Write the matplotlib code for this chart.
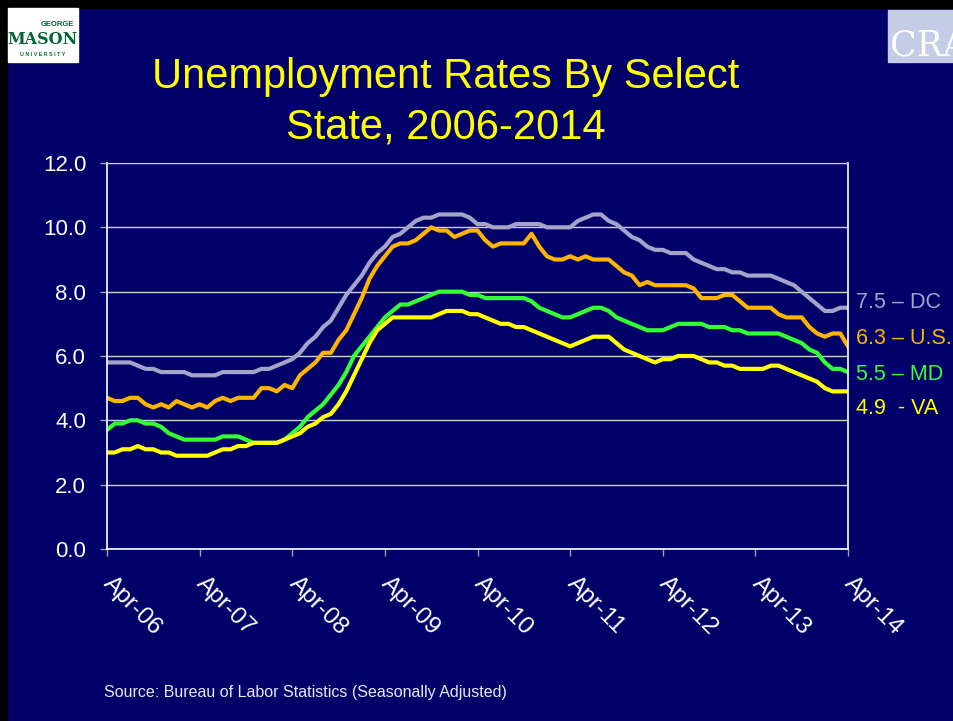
import matplotlib
matplotlib.use('Agg')
import matplotlib.pyplot as plt
from matplotlib.patches import Rectangle
from matplotlib.transforms import ScaledTranslation

# monthly rates, Apr-06 .. Apr-14 (97 months)
dc = [5.8, 5.8, 5.8, 5.8, 5.7, 5.6, 5.6, 5.5, 5.5, 5.5,
      5.5, 5.4, 5.4, 5.4, 5.4, 5.5, 5.5, 5.5, 5.5, 5.5,
      5.6, 5.6, 5.7, 5.8, 5.9, 6.1, 6.4, 6.6, 6.9, 7.1,
      7.5, 7.9, 8.2, 8.5, 8.9, 9.2, 9.4, 9.7, 9.8, 10.0,
      10.2, 10.3, 10.3, 10.4, 10.4, 10.4, 10.4, 10.3, 10.1, 10.1,
      10.0, 10.0, 10.0, 10.1, 10.1, 10.1, 10.1, 10.0, 10.0, 10.0,
      10.0, 10.2, 10.3, 10.4, 10.4, 10.2, 10.1, 9.9, 9.7, 9.6,
      9.4, 9.3, 9.3, 9.2, 9.2, 9.2, 9.0, 8.9, 8.8, 8.7,
      8.7, 8.6, 8.6, 8.5, 8.5, 8.5, 8.5, 8.4, 8.3, 8.2,
      8.0, 7.8, 7.6, 7.4, 7.4, 7.5, 7.5]
us = [4.7, 4.6, 4.6, 4.7, 4.7, 4.5, 4.4, 4.5, 4.4, 4.6,
      4.5, 4.4, 4.5, 4.4, 4.6, 4.7, 4.6, 4.7, 4.7, 4.7,
      5.0, 5.0, 4.9, 5.1, 5.0, 5.4, 5.6, 5.8, 6.1, 6.1,
      6.5, 6.8, 7.3, 7.8, 8.4, 8.8, 9.1, 9.4, 9.5, 9.5,
      9.6, 9.8, 10.0, 9.9, 9.9, 9.7, 9.8, 9.9, 9.9, 9.6,
      9.4, 9.5, 9.5, 9.5, 9.5, 9.8, 9.4, 9.1, 9.0, 9.0,
      9.1, 9.0, 9.1, 9.0, 9.0, 9.0, 8.8, 8.6, 8.5, 8.2,
      8.3, 8.2, 8.2, 8.2, 8.2, 8.2, 8.1, 7.8, 7.8, 7.8,
      7.9, 7.9, 7.7, 7.5, 7.5, 7.5, 7.5, 7.3, 7.2, 7.2,
      7.2, 6.9, 6.7, 6.6, 6.7, 6.7, 6.3]
md = [3.7, 3.9, 3.9, 4.0, 4.0, 3.9, 3.9, 3.8, 3.6, 3.5,
      3.4, 3.4, 3.4, 3.4, 3.4, 3.5, 3.5, 3.5, 3.4, 3.3,
      3.3, 3.3, 3.3, 3.4, 3.6, 3.8, 4.1, 4.3, 4.5, 4.8,
      5.1, 5.5, 6.0, 6.3, 6.6, 6.9, 7.2, 7.4, 7.6, 7.6,
      7.7, 7.8, 7.9, 8.0, 8.0, 8.0, 8.0, 7.9, 7.9, 7.8,
      7.8, 7.8, 7.8, 7.8, 7.8, 7.7, 7.5, 7.4, 7.3, 7.2,
      7.2, 7.3, 7.4, 7.5, 7.5, 7.4, 7.2, 7.1, 7.0, 6.9,
      6.8, 6.8, 6.8, 6.9, 7.0, 7.0, 7.0, 7.0, 6.9, 6.9,
      6.9, 6.8, 6.8, 6.7, 6.7, 6.7, 6.7, 6.7, 6.6, 6.5,
      6.4, 6.2, 6.1, 5.8, 5.6, 5.6, 5.5]
va = [3.0, 3.0, 3.1, 3.1, 3.2, 3.1, 3.1, 3.0, 3.0, 2.9,
      2.9, 2.9, 2.9, 2.9, 3.0, 3.1, 3.1, 3.2, 3.2, 3.3,
      3.3, 3.3, 3.3, 3.4, 3.5, 3.6, 3.8, 3.9, 4.1, 4.2,
      4.5, 4.9, 5.4, 5.9, 6.4, 6.8, 7.0, 7.2, 7.2, 7.2,
      7.2, 7.2, 7.2, 7.3, 7.4, 7.4, 7.4, 7.3, 7.3, 7.2,
      7.1, 7.0, 7.0, 6.9, 6.9, 6.8, 6.7, 6.6, 6.5, 6.4,
      6.3, 6.4, 6.5, 6.6, 6.6, 6.6, 6.4, 6.2, 6.1, 6.0,
      5.9, 5.8, 5.9, 5.9, 6.0, 6.0, 6.0, 5.9, 5.8, 5.8,
      5.7, 5.7, 5.6, 5.6, 5.6, 5.6, 5.7, 5.7, 5.6, 5.5,
      5.4, 5.3, 5.2, 5.0, 4.9, 4.9, 4.9]
tick_labels = ['Apr-06', 'Apr-07', 'Apr-08', 'Apr-09', 'Apr-10',
               'Apr-11', 'Apr-12', 'Apr-13', 'Apr-14']
end_labels = ['7.5 \u2013 DC', '6.3 \u2013 U.S.', '5.5 \u2013 MD', '4.9  - VA']

BG = '#000068'
colors = {'dc': '#a4a4c8', 'us': '#ffb400', 'md': '#33ff33', 'va': '#ffff00'}

plt.rcParams['font.family'] = ['Liberation Sans', 'DejaVu Sans']

fig = plt.figure(figsize=(9.54, 7.21), dpi=100, facecolor=BG)
W, H = 954.0, 721.0

# black slide edge (top and left)
fig.patches.append(Rectangle((0, 1 - 8 / H), 1, 8 / H, transform=fig.transFigure,
                             color='black', zorder=0))
fig.patches.append(Rectangle((0, 0), 7 / W, 1, transform=fig.transFigure,
                             color='black', zorder=0))

# George Mason logo (rough)
fig.patches.append(Rectangle((8 / W, 1 - 62 / H), 70 / W, 54 / H,
                             transform=fig.transFigure, color='white', zorder=1))
fig.text(57 / W, 1 - 25 / H, 'GEORGE', fontsize=5.5, fontweight='bold',
         color='#006633', ha='center', va='center')
fig.text(43 / W, 1 - 40 / H, 'MASON', fontsize=11.5, fontweight='bold',
         family='DejaVu Serif', color='#006633', ha='center', va='center')
fig.text(43 / W, 1 - 55 / H, 'U N I V E R S I T Y', fontsize=3.8,
         fontweight='bold', color='#006633', ha='center', va='center')

# CRA logo (rough, cut by the slide edge like the original)
fig.patches.append(Rectangle((888 / W, 1 - 62 / H), 66 / W, 52 / H,
                             transform=fig.transFigure, color='#c4cce6', zorder=1))
fig.text(890 / W, 1 - 46 / H, 'CRA', fontsize=25, family='DejaVu Serif',
         color='white', ha='left', va='center')

ax = fig.add_axes([107 / W, 1 - 549 / H, 741 / W, 386 / H])
ax.set_facecolor(BG)

months = list(range(len(dc)))
ax.plot(months, dc, color=colors['dc'], lw=3)
ax.plot(months, us, color=colors['us'], lw=3)
ax.plot(months, md, color=colors['md'], lw=3)
ax.plot(months, va, color=colors['va'], lw=3)

ax.set_xlim(0, 96)
ax.set_ylim(0, 12)
ax.set_yticks([0, 2, 4, 6, 8, 10, 12])
ax.set_yticklabels(['%.1f' % v for v in [0, 2, 4, 6, 8, 10, 12]])
ax.set_xticks(range(0, 97, 12))
ax.set_xticklabels(tick_labels)

ax.grid(axis='y', color='#d0d0dc', lw=1)
ax.set_axisbelow(True)
for side in ['left', 'right', 'bottom']:
    ax.spines[side].set_color('white')
    ax.spines[side].set_linewidth(1.2)
ax.spines['top'].set_color('#d0d0dc')

ax.tick_params(axis='y', colors='#a0a0b4', length=5, width=1, pad=10,
               labelcolor='white', labelsize=16)
ax.tick_params(axis='x', colors='#a0a0b4', length=5, width=1, pad=12,
               labelcolor='white', labelsize=17.5)
# rotated date labels, nudged right a little
shift = ScaledTranslation(8 / 100, 0, fig.dpi_scale_trans)
for lab in ax.get_xticklabels():
    lab.set_rotation(-45)
    lab.set_ha('left')
    lab.set_va('top')
    lab.set_rotation_mode('anchor')
    lab.set_transform(lab.get_transform() + shift)

# end-of-series labels
label_y = [303, 338, 374, 409]
for txt, c, y in zip(end_labels, [colors['dc'], colors['us'], colors['md'], colors['va']], label_y):
    fig.text(856 / W, 1 - y / H, txt, color=c, fontsize=15.5, va='center', ha='left')

fig.text(446 / W, 1 - 102 / H, 'Unemployment Rates By Select\nState, 2006-2014',
         ha='center', va='center', fontsize=30, color='#ffff00', linespacing=1.33)

fig.text(104 / W, 1 - 693 / H, 'Source: Bureau of Labor Statistics (Seasonally Adjusted)',
         fontsize=11.5, color='#e8e8f4', ha='left', va='center')

fig.savefig('out.png', dpi=100, facecolor=BG)
